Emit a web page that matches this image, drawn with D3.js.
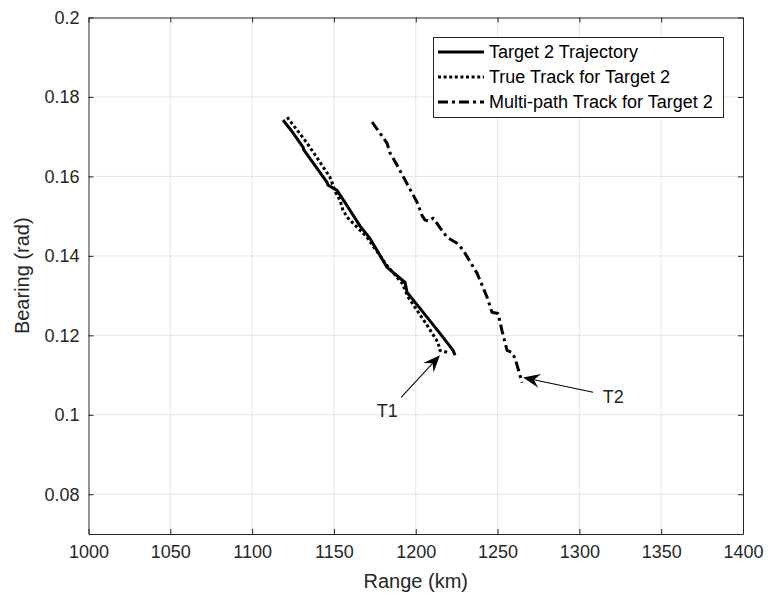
<!DOCTYPE html>
<html><head><meta charset="utf-8">
<script src="https://cdn.jsdelivr.net/npm/d3@7"></script>
<style>
body{margin:0;background:#fff;}
svg{display:block;font-family:"Liberation Sans",Arial,Helvetica,sans-serif;}
</style></head>
<body><svg id="chart" width="768" height="601"></svg>
<script>
// ---- data ----
const xTicks = [1000,1050,1100,1150,1200,1250,1300,1350,1400];
const yTicks = [0.08,0.1,0.12,0.14,0.16,0.18,0.2];
const yTickLabels = ["0.08","0.1","0.12","0.14","0.16","0.18","0.2"];
const seriesNames = ["Target 2 Trajectory","True Track for Target 2","Multi-path Track for Target 2"];

const trajRange   = [1118.9,1124.0,1131.1,1131.7,1145.8,1146.4,1151.9,1159.8,1166.0,1172.0,1182.5,1193.5,1194.7,1202.6,1214.8,1222.8,1224.0];
const trajBearing = [0.1742,0.1715,0.1674,0.1666,0.1585,0.1578,0.1565,0.1515,0.1475,0.1444,0.1371,0.1333,0.1308,0.1268,0.1205,0.1162,0.1150];

const trueRange   = [1121.4,1132.3,1140.0,1147.6,1151.0,1153.7,1155.5,1158.6,1170.0,1182.0,1191.7,1195.4,1207.0,1213.6,1214.8,1219.7];
const trueBearing = [0.1749,0.1691,0.1645,0.1598,0.1560,0.1540,0.1515,0.1495,0.1448,0.1378,0.1331,0.1296,0.1225,0.1182,0.1162,0.1157];

const mpRange   = [1173.3,1182.4,1184.3,1188.6,1200.8,1203.8,1205.7,1208.0,1210.6,1219.1,1225.2,1228.9,1237.5,1243.6,1246.6,1250.3,1252.7,1255.8,1258.8,1260.7,1265.0];
const mpBearing = [0.1737,0.1684,0.1659,0.1628,0.1535,0.1502,0.1490,0.1488,0.1495,0.1447,0.1432,0.1415,0.1356,0.1296,0.1258,0.1255,0.1212,0.1162,0.1157,0.1142,0.1081];

const arrowLabels  = ["T1","T2"];
const arrowTailR   = [1191.1,1308.4];
const arrowTailB   = [0.1044,0.1057];
const arrowTipR    = [1214.8,1265.6];
const arrowTipB    = [0.1150,0.1094];
const arrowLabelR  = [1182.6,1320.7];
const arrowLabelB  = [0.1011,0.1046];

// ---- layout ----
const L = 88.5, R = 743, T = 17.5, B = 534;
const ink = "#262626";
const svg = d3.select("#chart");
const x = d3.scaleLinear().domain([1000,1400]).range([L,R]);
const y = d3.scaleLinear().domain([0.07,0.2]).range([B,T]);

// grid
const g = svg.append("g");
g.selectAll("line.gx").data(xTicks.slice(1,-1)).enter().append("line")
  .attr("x1",d=>x(d)).attr("x2",d=>x(d)).attr("y1",T).attr("y2",B)
  .attr("stroke","#e6e6e6").attr("stroke-width",1);
g.selectAll("line.gy").data(yTicks.slice(0,-1)).enter().append("line")
  .attr("y1",d=>y(d)).attr("y2",d=>y(d)).attr("x1",L).attr("x2",R)
  .attr("stroke","#e6e6e6").attr("stroke-width",1);

// axes
const fs = 18;
const xAxisB = d3.axisBottom(x).tickValues(xTicks).tickFormat(d3.format("d")).tickSizeInner(-5).tickSizeOuter(0).tickPadding(11);
const xAxisT = d3.axisTop(x).tickValues(xTicks).tickFormat("").tickSizeInner(-5).tickSizeOuter(0);
const yAxisL = d3.axisLeft(y).tickValues(yTicks).tickFormat((d,i)=>yTickLabels[i]).tickSizeInner(-5).tickSizeOuter(0).tickPadding(9);
const yAxisR = d3.axisRight(y).tickValues(yTicks).tickFormat("").tickSizeInner(-5).tickSizeOuter(0);
function style(sel){
  sel.selectAll("path").attr("stroke",ink).attr("stroke-width",1);
  sel.selectAll("line").attr("stroke",ink).attr("stroke-width",1);
  sel.selectAll("text").attr("fill",ink).style("font-size",fs+"px").style("font-family","Liberation Sans, Arial, sans-serif");
}
svg.append("g").attr("transform",`translate(0,${B})`).call(xAxisB).call(style);
svg.append("g").attr("transform",`translate(0,${T})`).call(xAxisT).call(style);
svg.append("g").attr("transform",`translate(${L},0)`).call(yAxisL).call(style);
svg.append("g").attr("transform",`translate(${R},0)`).call(yAxisR).call(style);

// axis titles
svg.append("text").attr("x",(L+R)/2).attr("y",588).attr("text-anchor","middle")
  .attr("fill",ink).style("font-size","20px").text("Range (km)");
svg.append("text").attr("transform",`translate(29,${(T+B)/2}) rotate(-90)`).attr("text-anchor","middle")
  .attr("fill",ink).style("font-size","20px").text("Bearing (rad)");

// lines
const line = d3.line().x(d=>x(d[0])).y(d=>y(d[1]));
const clip = svg.append("g");
const styles = [
  {dash:null, w:3},
  {dash:"3,2.6", w:3},
  {dash:"10,4,3,4", w:3}
];
const series = [
  d3.zip(trajRange,trajBearing),
  d3.zip(trueRange,trueBearing),
  d3.zip(mpRange,mpBearing)
];
series.forEach((s,i)=>{
  clip.append("path").datum(s).attr("d",line).attr("fill","none")
    .attr("stroke","#000").attr("stroke-width",styles[i].w)
    .attr("stroke-dasharray",styles[i].dash).attr("stroke-linejoin","round");
});

// arrows
arrowLabels.forEach((lab,i)=>{
  const x0=x(arrowTailR[i]), y0=y(arrowTailB[i]), x1=x(arrowTipR[i]), y1=y(arrowTipB[i]);
  const ang=Math.atan2(y1-y0,x1-x0), len=Math.hypot(x1-x0,y1-y0);
  const hl=17, hw=7, nb=11;
  const grp=svg.append("g").attr("transform",`translate(${x0},${y0}) rotate(${ang*180/Math.PI})`);
  grp.append("line").attr("x1",0).attr("y1",0).attr("x2",len-nb).attr("y2",0).attr("stroke","#000").attr("stroke-width",1);
  grp.append("path").attr("d",`M${len},0 L${len-hl},${-hw} L${len-nb},0 L${len-hl},${hw} Z`).attr("fill","#000");
  svg.append("text").attr("x",x(arrowLabelR[i])).attr("y",y(arrowLabelB[i])).attr("dy","0.35em")
    .attr("text-anchor","middle").attr("fill",ink).style("font-size","18px").text(lab);
});

// legend
const lg = svg.append("g");
lg.append("rect").attr("x",433.5).attr("y",37.5).attr("width",290).attr("height",80)
  .attr("fill","#fff").attr("stroke",ink).attr("stroke-width",1);
seriesNames.forEach((n,i)=>{
  const yy = 52 + i*25;
  lg.append("line").attr("x1",438).attr("x2",484).attr("y1",yy).attr("y2",yy)
    .attr("stroke","#000").attr("stroke-width",styles[i].w).attr("stroke-dasharray",styles[i].dash);
  lg.append("text").attr("x",489).attr("y",yy).attr("dy","0.35em").attr("fill","#000")
    .style("font-size","18px").text(n);
});
</script></body></html>
